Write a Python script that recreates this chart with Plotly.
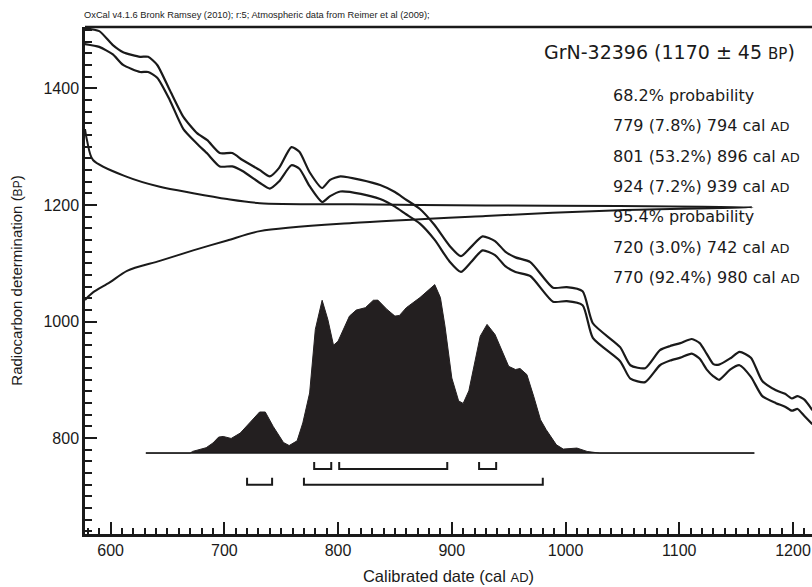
import plotly.graph_objects as go

# ---------------- data ----------------
# calibration curve (IntCal09), upper and lower 1-sigma envelope
cal_years = [577, 590, 602, 611, 626, 633, 641, 652, 664, 676, 685, 696, 707, 716,
             731, 740, 748, 759, 766, 775, 786, 793, 802, 820, 837, 850, 859, 872,
             885, 898, 908, 917, 927, 938, 947, 956, 969, 989, 1001, 1015, 1024, 1048,
             1057, 1070, 1083, 1092, 1101, 1111, 1118, 1124, 1130, 1135, 1145, 1153,
             1163, 1173, 1185, 1193, 1199, 1204, 1210, 1217]
cal_upper = [1503, 1498, 1474, 1462, 1454, 1454, 1440, 1397, 1351, 1323, 1311, 1289, 1289, 1277,
             1260, 1249, 1263, 1299, 1291, 1256, 1229, 1243, 1249, 1243, 1234, 1222, 1210, 1193,
             1165, 1130, 1112, 1128, 1146, 1138, 1120, 1110, 1102, 1058, 1059, 1052, 997, 956,
             925, 920, 951, 958, 963, 970, 963, 945, 927, 926, 937, 948,
             938, 898, 882, 876, 868, 872, 866, 848]
cal_lower = [1476, 1471, 1458, 1440, 1428, 1428, 1418, 1380, 1330, 1305, 1288, 1266, 1266, 1258,
             1238, 1228, 1240, 1268, 1262, 1232, 1205, 1215, 1223, 1219, 1210, 1197, 1185, 1168,
             1140, 1103, 1085, 1102, 1122, 1114, 1095, 1085, 1078, 1034, 1035, 1028, 972, 932,
             902, 896, 925, 933, 938, 945, 936, 918, 906, 900, 918, 925,
             905, 872, 860, 854, 847, 850, 838, 824]

# radiocarbon likelihood (1170 ± 45 BP): BP level and relative height
gauss_bp = [1330, 1311, 1277, 1248, 1231, 1220, 1210, 1203, 1201, 1199, 1198, 1196,
            1191, 1181, 1169, 1155, 1139, 1122, 1104, 1087, 1067, 1050, 1037]
gauss_p = [0, 0.003, 0.012, 0.063, 0.112, 0.162, 0.213, 0.262, 0.4, 0.6, 0.8, 1.0,
           0.8, 0.6, 0.4, 0.262, 0.213, 0.162, 0.112, 0.063, 0.037, 0.012, 0]

# calibrated probability distribution (relative)
prob_years = [631, 670, 672, 684, 690, 695, 699, 706, 714, 722, 731, 736, 743, 752, 757,
              764, 769, 775, 780, 786, 791, 796, 800, 810, 816, 824, 831, 835, 843,
              850, 854, 860, 872, 885, 890, 894, 900, 906, 910, 915, 922, 925, 931,
              938, 950, 956, 960, 966, 972, 978, 983, 992, 998, 1010, 1019, 1030, 1166]
prob_vals = [0, 0, 0.01, 0.032, 0.06, 0.095, 0.099, 0.087, 0.119, 0.179, 0.244, 0.244, 0.158,
             0.063, 0.045, 0.073, 0.179, 0.357, 0.734, 0.907, 0.793, 0.64, 0.664, 0.813,
             0.849, 0.863, 0.907, 0.908, 0.853, 0.813, 0.817, 0.863, 0.923, 1.0, 0.923,
             0.754, 0.446, 0.31, 0.295, 0.37, 0.595, 0.694, 0.764, 0.704, 0.515, 0.496,
             0.502, 0.466, 0.337, 0.198, 0.139, 0.049, 0.024, 0.03, 0.01, 0, 0]

# highest posterior density ranges
ranges_68 = [(779, 794), (801, 896), (924, 939)]
ranges_95 = [(720, 742), (770, 980)]

title_text = "GrN-32396 (1170 ± 45 <span style='font-size:15px'>BP</span>)"
summary_lines = [
    "68.2% probability",
    "779 (7.8%) 794 cal <span style='font-size:13px'>AD</span>",
    "801 (53.2%) 896 cal <span style='font-size:13px'>AD</span>",
    "924 (7.2%) 939 cal <span style='font-size:13px'>AD</span>",
    "95.4% probability",
    "720 (3.0%) 742 cal <span style='font-size:13px'>AD</span>",
    "770 (92.4%) 980 cal <span style='font-size:13px'>AD</span>",
]

# ---------------- layout constants ----------------
X_RANGE = [577.5, 1216.7]
Y_RANGE = [635.6, 1505.1]
PROB_BASE = 774.3     # BP level of distribution baseline
PROB_SCALE = 289      # BP units for max probability
GAUSS_SCALE = 587     # years for max of the C14 likelihood
INK = "#1a1a1a"
FONT = "Liberation Sans, Arial, Helvetica, sans-serif"
FONT_WIDE = "DejaVu Sans, Liberation Sans, sans-serif"

fig = go.Figure()

# calibrated distribution (filled)
py = [PROB_BASE + v * PROB_SCALE for v in prob_vals]
fig.add_trace(go.Scatter(x=prob_years, y=py, mode="lines", fill="toself",
                         fillcolor="#231f20", line=dict(color="#231f20", width=1),
                         hoverinfo="skip", showlegend=False))
fig.add_trace(go.Scatter(x=[prob_years[0], prob_years[-1]], y=[PROB_BASE, PROB_BASE],
                         mode="lines", line=dict(color=INK, width=1.5),
                         hoverinfo="skip", showlegend=False))

# radiocarbon likelihood along the y axis
gx = [X_RANGE[0] + p * GAUSS_SCALE for p in gauss_p]
fig.add_trace(go.Scatter(x=gx, y=gauss_bp, mode="lines",
                         line=dict(color=INK, width=2, shape="spline", smoothing=0.8),
                         hoverinfo="skip", showlegend=False))

# calibration curve envelope
for arr in (cal_upper, cal_lower):
    fig.add_trace(go.Scatter(x=cal_years, y=arr, mode="lines",
                             line=dict(color=INK, width=2.2, shape="spline", smoothing=0.6),
                             hoverinfo="skip", showlegend=False))

# range brackets
def bracket(x0, x1, ybot, ytop):
    fig.add_trace(go.Scatter(x=[x0, x0, x1, x1], y=[ytop, ybot, ybot, ytop], mode="lines",
                             line=dict(color=INK, width=2), hoverinfo="skip", showlegend=False))

for a, b in ranges_68:
    bracket(a, b, 747, 759)
for a, b in ranges_95:
    bracket(a, b, 720, 732)

# top border
fig.add_shape(type="line", xref="paper", yref="paper", x0=0, x1=1, y0=1, y1=1,
              line=dict(color=INK, width=2.5))

# texts
fig.add_annotation(xref="paper", yref="paper", x=0, y=1, xshift=-3, yshift=5,
                   xanchor="left", yanchor="bottom",
                   text="OxCal v4.1.6 Bronk Ramsey (2010); r:5; Atmospheric data from Reimer et al (2009);",
                   showarrow=False, font=dict(family=FONT, size=9.3, color="#222"))
fig.add_annotation(xref="paper", yref="paper", x=(797 - 85) / 727, y=(534 - 52) / 507,
                   xanchor="right", yanchor="middle", showarrow=False,
                   text=title_text, font=dict(family=FONT_WIDE, size=19, color=INK))
for i, t in enumerate(summary_lines):
    fig.add_annotation(xref="paper", yref="paper", x=(611 - 85) / 727,
                       y=(534 - (95.5 + i * 30.3)) / 507, xanchor="left", yanchor="middle",
                       text=t, showarrow=False, font=dict(family=FONT_WIDE, size=16, color=INK))

fig.update_layout(
    width=812, height=587,
    margin=dict(l=85, r=0, t=27, b=53),
    plot_bgcolor="white", paper_bgcolor="white",
    font=dict(family=FONT, color=INK),
    xaxis=dict(range=X_RANGE, showgrid=False, zeroline=False,
               showline=True, linecolor=INK, linewidth=2.5,
               ticks="inside", ticklen=12, tickwidth=2, tickcolor=INK,
               tickvals=[600, 700, 800, 900, 1000, 1100, 1200],
               minor=dict(ticks="inside", ticklen=6, tickwidth=1.5, tickcolor=INK, dtick=10,
                          tick0=0, showgrid=False),
               tickfont=dict(family=FONT, size=16, color=INK),
               title=dict(text="Calibrated date (cal <span style='font-size:13px'>AD</span>)",
                          font=dict(family=FONT, size=16.5, color=INK), standoff=13)),
    yaxis=dict(range=Y_RANGE, showgrid=False, zeroline=False,
               showline=True, linecolor=INK, linewidth=2.5,
               ticks="inside", ticklen=12, tickwidth=2, tickcolor=INK,
               tickvals=[800, 1000, 1200, 1400],
               minor=dict(ticks="inside", ticklen=7, tickwidth=1.5, tickcolor=INK, dtick=20,
                          tick0=0, showgrid=False),
               tickfont=dict(family=FONT, size=16, color=INK),
               title=dict(text="Radiocarbon determination (<span style='font-size:12px'>BP</span>)",
                          font=dict(family=FONT, size=15, color=INK), standoff=18)),
)

fig.write_html("out.html", config={"displayModeBar": False},
               post_script="document.body.style.margin='0';")
